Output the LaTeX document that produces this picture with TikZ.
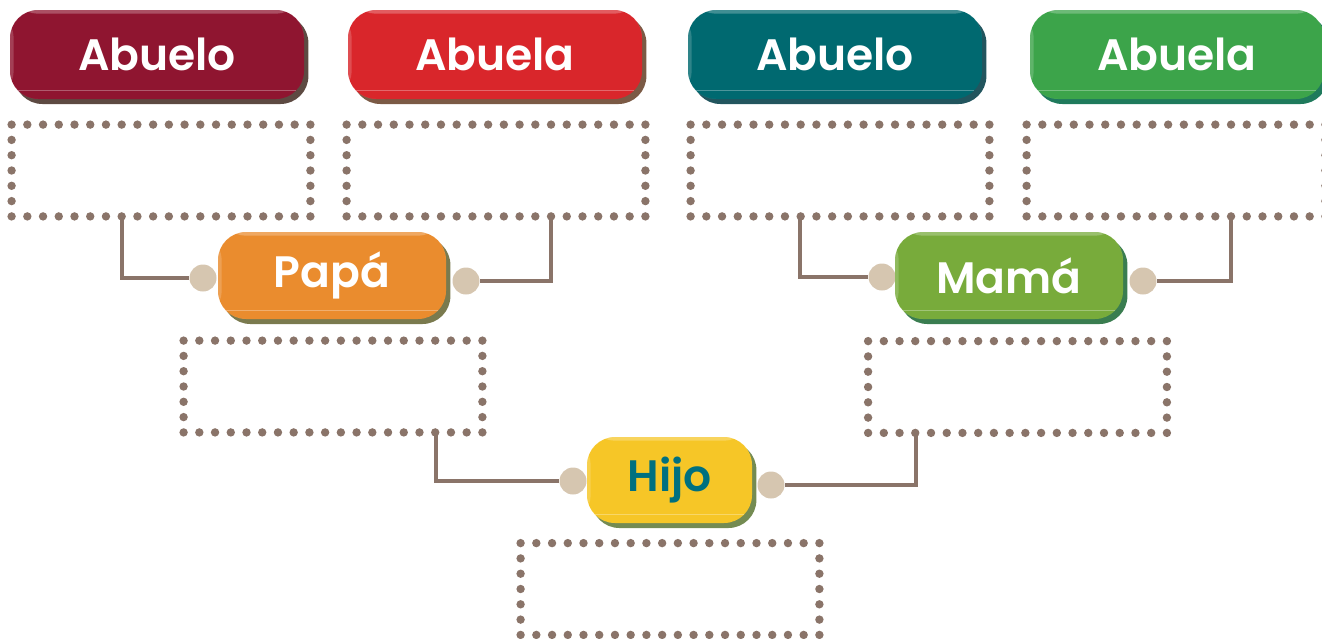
\documentclass[tikz,border=0pt]{standalone}
\usepackage{fontspec}
\newfontfamily\lab{Poppins}[UprightFont={* SemiBold}]
\usetikzlibrary{calc,shadows}
\definecolor{dotc}{HTML}{8A7469}
\definecolor{knobc}{HTML}{D6C6B0}
\definecolor{fA}{HTML}{8F1530}\definecolor{sA}{HTML}{5D4A42}
\definecolor{fB}{HTML}{D9262B}\definecolor{sB}{HTML}{7B5A45}
\definecolor{fC}{HTML}{006970}\definecolor{sC}{HTML}{22555E}
\definecolor{fD}{HTML}{3CA44A}\definecolor{sD}{HTML}{1F7A5C}
\definecolor{fP}{HTML}{EA8C2E}\definecolor{sP}{HTML}{7A7A4E}
\definecolor{fM}{HTML}{78AB3B}\definecolor{sM}{HTML}{3A7D50}
\definecolor{fH}{HTML}{F6C627}\definecolor{sH}{HTML}{748B52}
\definecolor{tH}{HTML}{00707F}
\newcommand\dframe[1]{%
  \foreach \i in {0,...,19}{%
    \fill[dotc] ($(#1.north west)!\i/19!(#1.north east)$) circle[radius=2.1pt];
    \fill[dotc] ($(#1.south west)!\i/19!(#1.south east)$) circle[radius=2.1pt];}
  \foreach \i in {1,...,5}{%
    \fill[dotc] ($(#1.north west)!\i/6!(#1.south west)$) circle[radius=2.1pt];
    \fill[dotc] ($(#1.north east)!\i/6!(#1.south east)$) circle[radius=2.1pt];}}
\tikzset{
  tag/.style n args={2}{rectangle, rounded corners=14pt, inner sep=0pt,
    fill=#1, text=white, font=\lab\fontsize{22}{22}\selectfont,
    general shadow={fill=#2, shadow xshift=2.2pt, shadow yshift=-2.5pt},
    path picture={
      \fill[white,opacity=.25] (path picture bounding box.north west) rectangle ([yshift=-1.8pt]path picture bounding box.north east);
      \fill[white,opacity=.18] (path picture bounding box.north west) rectangle ([xshift=1.8pt]path picture bounding box.south west);
      \draw[white,opacity=.3,line width=.5pt] ([xshift=4pt,yshift=4.5pt]path picture bounding box.south west) -- ([xshift=-4pt,yshift=4.5pt]path picture bounding box.south east);
    }},
  topbox/.style={minimum width=147pt, minimum height=44.5pt},
  dbox/.style={rectangle, inner sep=0pt, minimum width=149pt, minimum height=45.5pt},
  knob/.style={circle, fill=knobc, inner sep=0pt, minimum size=13.5pt},
  conn/.style={draw=dotc, line width=2.3pt}
}
\begin{document}
\begin{tikzpicture}[x=0.5pt,y=-0.5pt]
\useasboundingbox (0,0) rectangle (1322,638);
% top row
\node[tag={fA}{sA}, topbox] (a1) at (157,54.5) {Abuelo};
\node[tag={fB}{sB}, topbox] (a2) at (495,54.5) {Abuela};
\node[tag={fC}{sC}, topbox] (a3) at (835,54.5) {Abuelo};
\node[tag={fD}{sD}, topbox] (a4) at (1177,54.5) {Abuela};
% dotted boxes
\node[dbox] (d1) at (161,170.5) {};
\node[dbox] (d2) at (496,170.5) {};
\node[dbox] (d3) at (840,170.5) {};
\node[dbox] (d4) at (1176,170.5) {};
\node[dbox] (d5) at (333,386.5) {};
\node[dbox] (d6) at (1017.5,387) {};
\node[dbox] (d7) at (670,589) {};
\dframe{d1}\dframe{d2}\dframe{d3}\dframe{d4}\dframe{d5}\dframe{d6}\dframe{d7}
% branch points
\coordinate (k1) at (122,216);
\coordinate (k2) at (551,216);
\coordinate (k3) at (800,216);
\coordinate (k4) at (1231,216);
\coordinate (k5) at (436,431);
\coordinate (k6) at (916,432);
% knobs
\node[knob] (pl) at (203,278) {};
\node[knob] (pr) at (466,281) {};
\node[knob] (ml) at (882,277) {};
\node[knob] (mr) at (1143,281) {};
\node[knob] (hl) at (573,481) {};
\node[knob] (hr) at (771,485) {};
% connectors
\draw[conn] (k1) |- (pl);
\draw[conn] (k2) |- (pr);
\draw[conn] (k3) |- (ml);
\draw[conn] (k4) |- (mr);
\draw[conn] (k5) |- (hl);
\draw[conn] (k6) |- (hr);
% middle boxes
\node[tag={fP}{sP}, minimum width=114pt, minimum height=43.5pt] (pa) at (332,275.5) {Papá};
\node[tag={fM}{sM}, minimum width=114pt, minimum height=43.5pt] (ma) at (1009,275.5) {Mamá};
\node[tag={fH}{sH}, text=tH, minimum width=82.5pt, minimum height=43pt] (hi) at (669.5,480) {Hijo};
\end{tikzpicture}
\end{document}
